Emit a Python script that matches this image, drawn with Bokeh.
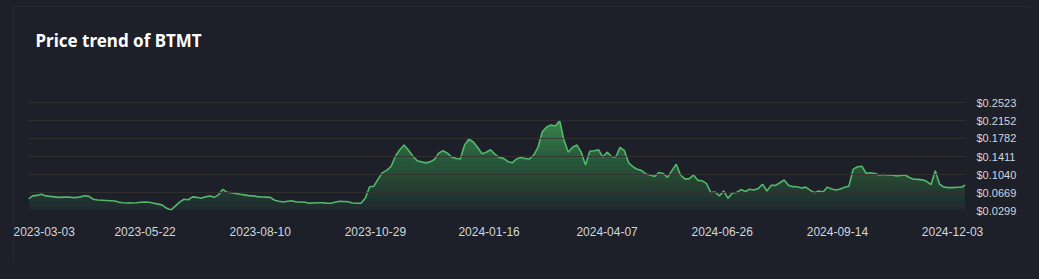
import numpy as np
import pandas as pd
from bokeh.plotting import figure
from bokeh.models import Range1d, FixedTicker, DatetimeTickFormatter, NumeralTickFormatter, Title
from bokeh.layouts import column
from bokeh.embed import file_html
from bokeh.resources import INLINE

title_text = "Price trend of BTMT"
start_date = "2023-03-02"
step_days = 3
prices = [
    0.054, 0.060, 0.061, 0.0635, 0.060, 0.059, 0.058, 0.057, 0.0575, 0.0577,
    0.057, 0.0565, 0.058, 0.0604, 0.059, 0.053, 0.0515, 0.051, 0.0505, 0.050,
    0.0494, 0.047, 0.046, 0.0455, 0.0453, 0.046, 0.0468, 0.0472, 0.047, 0.045,
    0.043, 0.041, 0.0344, 0.031, 0.039, 0.047, 0.053, 0.052, 0.058, 0.057,
    0.055, 0.058, 0.0597, 0.057, 0.062, 0.0735, 0.0674, 0.0666, 0.065, 0.0633,
    0.062, 0.0606, 0.060, 0.0585, 0.0577, 0.0575, 0.057, 0.051, 0.049, 0.0474,
    0.049, 0.050, 0.0474, 0.0474, 0.047, 0.045, 0.0455, 0.046, 0.0458, 0.045,
    0.0447, 0.047, 0.0488, 0.0485, 0.048, 0.0455, 0.0447, 0.0447, 0.055, 0.0789,
    0.080, 0.095, 0.108, 0.113, 0.121, 0.142, 0.155, 0.1647, 0.154, 0.142,
    0.1324, 0.130, 0.128, 0.130, 0.135, 0.148, 0.153, 0.148, 0.140, 0.137,
    0.136, 0.165, 0.177, 0.171, 0.160, 0.147, 0.150, 0.155, 0.146, 0.139,
    0.1373, 0.131, 0.128, 0.136, 0.139, 0.137, 0.136, 0.144, 0.160, 0.192,
    0.202, 0.206, 0.204, 0.2147, 0.175, 0.150, 0.160, 0.1647, 0.150, 0.1235,
    0.152, 0.153, 0.155, 0.140, 0.150, 0.141, 0.140, 0.160, 0.153, 0.128,
    0.120, 0.1147, 0.112, 0.105, 0.103, 0.100, 0.108, 0.106, 0.098, 0.112,
    0.125, 0.103, 0.095, 0.095, 0.103, 0.092, 0.091, 0.0857, 0.067, 0.068,
    0.060, 0.070, 0.055, 0.066, 0.067, 0.073, 0.069, 0.0735, 0.072, 0.075,
    0.084, 0.070, 0.082, 0.0817, 0.0871, 0.0927, 0.082, 0.079, 0.0789, 0.076,
    0.078, 0.072, 0.0665, 0.070, 0.068, 0.078, 0.074, 0.072, 0.074, 0.0777,
    0.080, 0.115, 0.120, 0.121, 0.1064, 0.1077, 0.106, 0.103, 0.104, 0.103,
    0.103, 0.101, 0.102, 0.103, 0.098, 0.0941, 0.094, 0.093, 0.090, 0.083,
    0.1118, 0.084, 0.078, 0.077, 0.077, 0.0777, 0.0777, 0.0824,
]
x_tick_dates = ["2023-03-03", "2023-05-22", "2023-08-10", "2023-10-29", "2024-01-16",
                "2024-04-07", "2024-06-26", "2024-09-14", "2024-12-03"]
y_ticks = [0.0299, 0.0669, 0.1040, 0.1411, 0.1782, 0.2152, 0.2523]

dates = pd.date_range(start_date, periods=len(prices), freq=f"{step_days}D")
price_arr = np.array(prices)

BG = "#1d2029"
GRID = "#34322f"
LINE = "#52b86a"
LABEL = "#d3d6dd"

# one pixel of headroom so the top grid line is drawn inside the plotting area
span = y_ticks[-1] - y_ticks[0]
y_top = y_ticks[-1] + span / 108

p = figure(width=1016, height=256, x_axis_type="datetime", y_axis_location="right",
           output_backend="svg", toolbar_location=None,
           x_range=Range1d(dates[0], dates[-1]), y_range=Range1d(y_ticks[0], y_top),
           min_border_left=15, min_border_right=64, min_border_top=95, min_border_bottom=52,
           background_fill_color=BG, border_fill_color=BG, outline_line_color=None)
p.margin = (6, 10, 17, 13)
p.styles = {"outline": "1px solid #2b2e38", "outline-offset": "-1px"}

p.title.text = title_text
p.title.text_font = "Noto Sans"
p.title.text_font_size = "17px"
p.title.text_font_style = "bold"
p.title.text_color = "#ffffff"
p.title.offset = 7
p.title.vertical_align = "top"
p.title.standoff = 0
# blank spacer between the title and the plotting area
p.add_layout(Title(text=" ", text_font="Noto Sans", text_font_size="17px",
                   text_font_style="bold", standoff=23), "above")

# gradient-like fill: stacked layers, each starting higher, compounding opacity
nb = 40
lo, hi = y_ticks[0], price_arr.max()
edges = np.linspace(lo, hi, nb + 1)[:-1]
A = 0.08 + 0.72 * (edges - lo) / (hi - lo)
prev = 0.0
for k in range(nb):
    a = 1 - (1 - A[k]) / (1 - prev)
    prev = A[k]
    y1 = np.full(len(price_arr), edges[k])
    y2 = np.maximum(price_arr, edges[k])
    p.varea(x=dates, y1=y1, y2=y2, fill_color=(76, 168, 96), fill_alpha=float(a))

p.line(dates, price_arr, line_color=LINE, line_width=1.6)

p.xgrid.grid_line_color = None
p.ygrid.grid_line_color = GRID
p.ygrid.grid_line_width = 1
p.ygrid.level = "overlay"
p.ygrid.grid_line_alpha = 0.85

xt = [pd.Timestamp(d).value // 10**6 for d in x_tick_dates]
p.xaxis.ticker = FixedTicker(ticks=xt)
fmt = "%Y-%m-%d"
p.xaxis.formatter = DatetimeTickFormatter(microseconds=fmt, milliseconds=fmt, seconds=fmt,
                                          minsec=fmt, minutes=fmt, hourmin=fmt, hours=fmt,
                                          days=fmt, months=fmt, years=fmt)
p.yaxis.ticker = FixedTicker(ticks=y_ticks)
p.yaxis.formatter = NumeralTickFormatter(format="$0.0000")

for ax in (p.xaxis[0], p.yaxis[0]):
    ax.axis_line_color = None
    ax.major_tick_line_color = None
    ax.minor_tick_line_color = None
    ax.major_tick_out = 0
    ax.major_label_text_color = LABEL
    ax.major_label_text_font = "Liberation Sans"
p.xaxis.major_label_text_font_size = "12px"
p.xaxis.major_label_standoff = 16
p.yaxis.major_label_text_font_size = "11px"
p.yaxis.major_label_standoff = 11

root = column(p, width=1039, height=279, styles={"background-color": BG})

open("out.html", "w").write(file_html(root, INLINE))
